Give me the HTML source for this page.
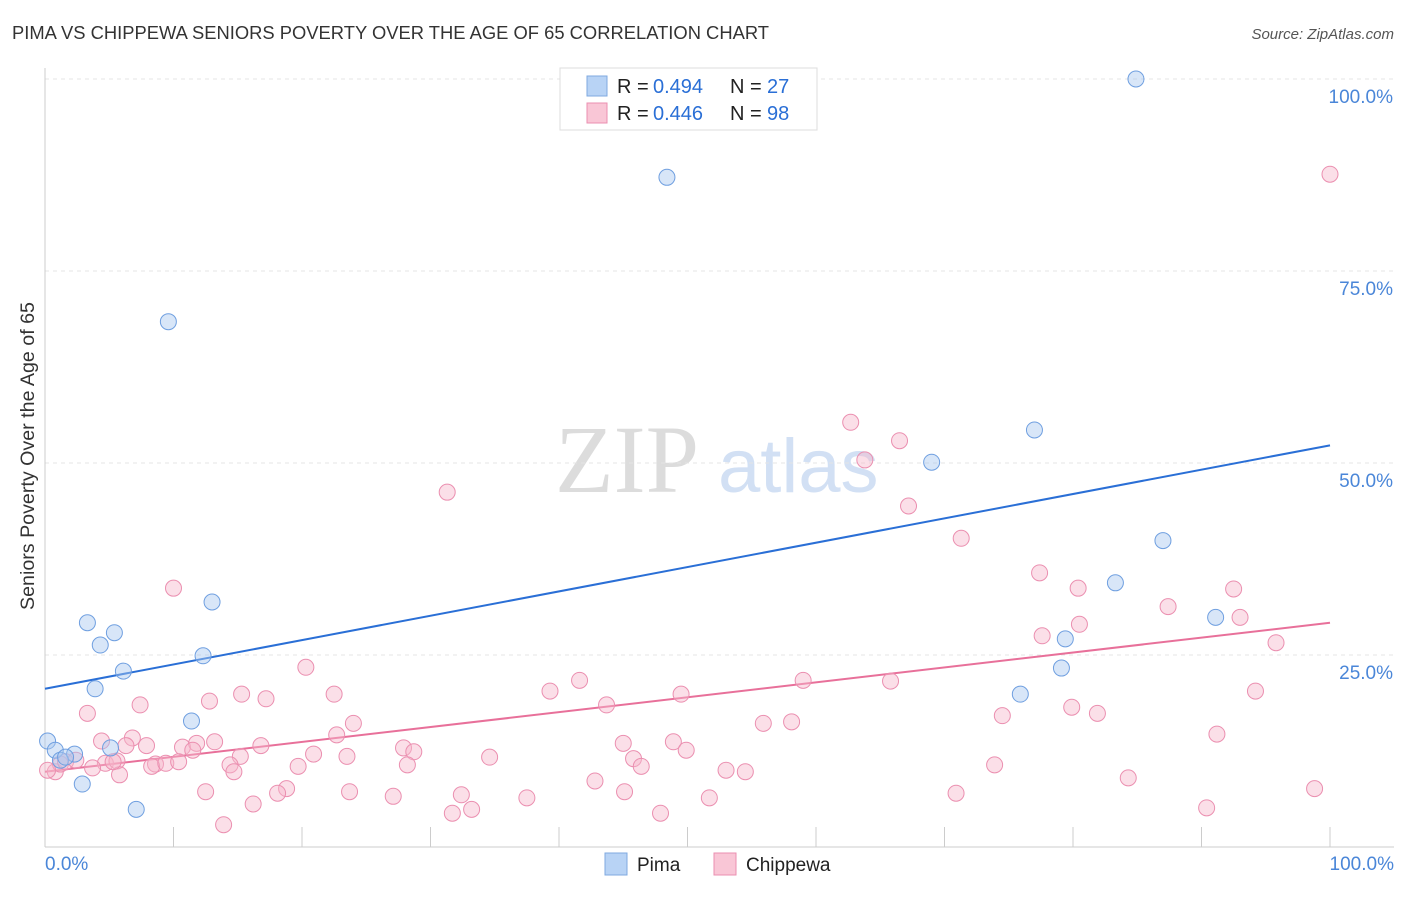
<!DOCTYPE html>
<html><head><meta charset="utf-8"><style>
body{margin:0;background:#fff;font-family:"Liberation Sans",sans-serif;}
</style></head><body>
<svg id="chart" width="1406" height="892" xmlns="http://www.w3.org/2000/svg" font-family="Liberation Sans, sans-serif">
<text x="12" y="39" font-size="18" fill="#333" textLength="757" lengthAdjust="spacingAndGlyphs">PIMA VS CHIPPEWA SENIORS POVERTY OVER THE AGE OF 65 CORRELATION CHART</text>
<text x="1394" y="39" font-size="15" fill="#555" text-anchor="end" font-style="italic">Source: ZipAtlas.com</text>
<g>
<text x="555" y="492" font-size="96" fill="#dcdcdc" style="font-family:'Liberation Serif',serif">ZIP</text>
<text x="718" y="492" font-size="76" fill="#d2e0f4">atlas</text>
</g>
<g id="grid"></g>
<g id="axes"></g>
<g id="lines"></g>
<g id="points"></g>
<text transform="translate(34,456) rotate(-90)" text-anchor="middle" font-size="19" fill="#333" textLength="308" lengthAdjust="spacingAndGlyphs">Seniors Poverty Over the Age of 65</text>
<g>
<rect x="560" y="68" width="257" height="62" fill="#fff" stroke="#ddd"/>
<rect x="587" y="76" width="20" height="20" fill="#b8d3f5" stroke="#7fa9e0"/>
<text x="617" y="93" font-size="20" fill="#222">R =</text>
<text x="653" y="93" font-size="20" fill="#2a6fd6">0.494</text>
<text x="730" y="93" font-size="20" fill="#222">N =</text>
<text x="767" y="93" font-size="20" fill="#2a6fd6">27</text>
<rect x="587" y="103" width="20" height="20" fill="#f9c6d6" stroke="#eb8fb0"/>
<text x="617" y="120" font-size="20" fill="#222">R =</text>
<text x="653" y="120" font-size="20" fill="#2a6fd6">0.446</text>
<text x="730" y="120" font-size="20" fill="#222">N =</text>
<text x="767" y="120" font-size="20" fill="#2a6fd6">98</text>
</g>
<g>
<rect x="605" y="853" width="22" height="22" fill="#b8d3f5" stroke="#7fa9e0"/>
<text x="637" y="871" font-size="19" fill="#222">Pima</text>
<rect x="714" y="853" width="22" height="22" fill="#f9c6d6" stroke="#eb8fb0"/>
<text x="746" y="871" font-size="19" fill="#222">Chippewa</text>
</g>
</svg>
<script>
const yTicks=[25,50,75,100];
const yTickLabels=["25.0%","50.0%","75.0%","100.0%"];
const xTickLabels=["0.0%","100.0%"];
const pimaX=[84.9,48.4,9.6,77.0,69.0,87.0,83.3,13.0,3.3,5.4,4.3,91.1,79.4,12.3,79.1,6.1,3.9,75.9,11.4,0.2,5.1,0.8,2.3,1.2,1.6,2.9,7.1];
const pimaY=[100,87.2,68.4,54.3,50.1,39.9,34.4,31.9,29.2,27.9,26.3,29.9,27.1,24.9,23.3,22.9,20.6,19.9,16.4,13.8,12.9,12.6,12.1,11.3,11.7,8.2,4.9];
const chipX=[100,62.7,63.8,66.5,31.3,67.2,71.3,77.4,80.4,92.5,10.0,87.4,93.0,80.5,77.6,95.8,20.3,41.6,59.0,65.8,39.3,49.5,94.2,15.3,22.5,12.8,17.2,7.4,43.7,79.9,81.9,74.5,24.0,55.9,58.1,3.3,91.2,22.7,4.4,6.8,10.7,13.2,11.8,16.8,7.9,6.3,45.0,48.9,49.9,27.9,28.7,11.5,15.2,20.9,23.5,34.6,4.7,5.6,45.8,46.4,14.4,8.6,8.3,9.4,10.4,19.7,28.2,3.7,0.8,1.2,1.6,5.8,14.7,53.0,54.5,73.9,84.3,42.8,18.8,18.1,12.5,23.7,27.1,32.4,45.1,37.5,51.7,70.9,98.8,16.2,33.2,31.7,90.4,47.9,13.9,0.2,5.3,2.4];
const chipY=[87.6,55.3,50.4,52.9,46.2,44.4,40.2,35.7,33.7,33.6,33.7,31.3,29.9,29.0,27.5,26.6,23.4,21.7,21.7,21.6,20.3,19.9,20.3,19.9,19.9,19.0,19.3,18.5,18.5,18.2,17.4,17.1,16.1,16.1,16.3,17.4,14.7,14.6,13.8,14.2,13.0,13.7,13.5,13.2,13.2,13.2,13.5,13.7,12.6,12.9,12.4,12.6,11.8,12.1,11.8,11.7,10.9,11.2,11.5,10.5,10.7,10.8,10.5,10.9,11.1,10.5,10.7,10.3,9.8,10.8,11.1,9.4,9.8,10.0,9.8,10.7,9.0,8.6,7.6,7.0,7.2,7.2,6.6,6.8,7.2,6.4,6.4,7.0,7.6,5.6,4.9,4.4,5.1,4.4,2.9,10.0,11.1,11.3];
const pimaTrend=[20.6,52.3];
const chipTrend=[9.8,29.2];
const NS="http://www.w3.org/2000/svg";
const X=v=>45+v*12.85, Y=v=>847-v*7.68;
function mk(tag,attrs,parent){const e=document.createElementNS(NS,tag);for(const k in attrs)e.setAttribute(k,attrs[k]);document.getElementById(parent).appendChild(e);return e;}
yTicks.forEach((t,i)=>{
 const g=mk('line',{x1:45,x2:1394,y1:Y(t),y2:Y(t),stroke:'#e4e4e4','stroke-dasharray':'4,4'},'grid');
 
 
 const l=mk('text',{x:1393,y:Y(t)+24,'text-anchor':'end','font-size':19,fill:'#4a86d8'},'axes');
 l.textContent=yTickLabels[i];
 
 
});
const ax=mk('line',{x1:45,x2:1394,y1:847,y2:847,stroke:'#ccc'},'axes');


const ay=mk('line',{x1:45,x2:45,y1:68,y2:847,stroke:'#ccc'},'axes');


for(let i=0;i<=10;i++){const t=mk('line',{x1:X(i*10),x2:X(i*10),y1:827,y2:847,stroke:'#ccc'},'axes');
 
 }
[[0,'start',45],[100,'end',1394]].forEach((d,i)=>{const t=mk('text',{x:d[2],y:870,'text-anchor':d[1],'font-size':19,fill:'#4a86d8'},'axes');t.textContent=xTickLabels[i];
 
 });
function pts(xs,ys,fill,stroke,name){xs.forEach((x,i)=>{const c=mk('circle',{cx:X(x),cy:Y(ys[i]),r:8,fill:fill,'fill-opacity':0.45,stroke:stroke,'stroke-width':1},'points');
 
 });}
pts(chipX,chipY,'#f7b8cc','#eb8fb0','chippewa-point');
pts(pimaX,pimaY,'#a9c8f0','#6f9fe0','pima-point');
const l1=mk('line',{x1:X(0),y1:Y(pimaTrend[0]),x2:X(100),y2:Y(pimaTrend[1]),stroke:'#2a6fd6','stroke-width':2},'lines');


const l2=mk('line',{x1:X(0),y1:Y(chipTrend[0]),x2:X(100),y2:Y(chipTrend[1]),stroke:'#e8709a','stroke-width':2},'lines');


</script>
</body></html>
